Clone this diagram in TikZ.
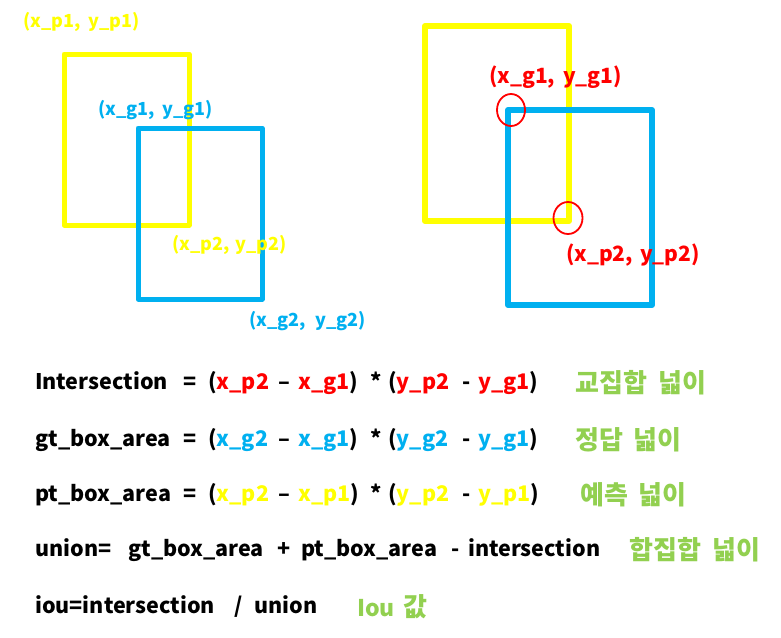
\documentclass[tikz,border=0pt]{standalone}
\usepackage{fontspec}
\setmainfont{Noto Sans CJK KR}
\definecolor{ylw}{HTML}{FFFF00}
\definecolor{blu}{HTML}{00B0F0}
\definecolor{rd}{HTML}{FF0000}
\definecolor{grn}{HTML}{92D050}
\usetikzlibrary{shapes.geometric}
\newcommand\sg[2]{\makebox[#1][l]{#2}}
\tikzset{
  boxline/.style={line width=5pt, line join=round},
  lbl/.style={inner sep=0pt, anchor=west, font=\fontsize{18}{20}\selectfont\bfseries},
  rlbl/.style={inner sep=0pt, anchor=west, font=\fontsize{21}{24}\selectfont\bfseries},
  eq/.style={inner sep=0pt, anchor=west, font=\fontsize{21.5}{26}\selectfont\bfseries},
  kr/.style={inner sep=0pt, anchor=west, text=grn, font=\fontsize{26}{30}\selectfont\bfseries},
  ringmark/.style={draw=rd, line width=1.8pt, ellipse, inner sep=0pt}
}
\begin{document}
\begin{tikzpicture}[x=1pt,y=-1pt]
\useasboundingbox[fill=white] (0,0) rectangle (781,637);
% left diagram
\coordinate (lp1) at (64,54);  \coordinate (lp2) at (189,225);
\coordinate (lg1) at (138,128); \coordinate (lg2) at (262,299);
\draw[boxline, ylw] (lp1) rectangle (lp2);
\draw[boxline, blu] (lg1) rectangle (lg2);
\node[lbl, text=ylw] (tp1) at (23,22) {\sg{65pt}{(x\_p1,}y\_p1)};
\node[lbl, text=blu] (tg1) at (98,110) {\sg{64pt}{(x\_g1,}y\_g1)};
\node[lbl, text=ylw] (tp2) at (172,245) {\sg{63pt}{(x\_p2,}y\_p2)};
\node[lbl, text=blu] (tg2) at (249,321) {\sg{66pt}{(x\_g2,}y\_g2)};
% right diagram
\coordinate (rp1) at (425,26);  \coordinate (rp2) at (569,221);
\coordinate (rg1) at (508,110); \coordinate (rg2) at (652,305);
\draw[boxline, line width=6pt, ylw] (rp1) rectangle (rp2);
\draw[boxline, line width=6pt, blu] (rg1) rectangle (rg2);
\node[ringmark, minimum width=28pt, minimum height=32pt] (c1) at (511,110) {};
\node[ringmark, minimum width=29pt, minimum height=32pt] (c2) at (568,218) {};
\node[rlbl, text=rd] (rt1) at (489,77) {\sg{74pt}{(x\_g1,}y\_g1)};
\node[rlbl, text=rd] (rt2) at (566,255) {\sg{74pt}{(x\_p2,}y\_p2)};
% formulas
\node[eq] (f1) at (35,383) {\sg{148pt}{Intersection}\sg{25pt}{=}\sg{70pt}{(\textcolor{rd}{x\_p2}}\sg{20pt}{–}\sg{72pt}{\textcolor{rd}{x\_g1})}\sg{18pt}{*}\sg{74pt}{(\textcolor{rd}{y\_p2}}\sg{16pt}{-}\textcolor{rd}{y\_g1})};
\node[eq] (f2) at (35,440) {\sg{148pt}{gt\_box\_area}\sg{25pt}{=}\sg{70pt}{(\textcolor{blu}{x\_g2}}\sg{20pt}{–}\sg{72pt}{\textcolor{blu}{x\_g1})}\sg{18pt}{*}\sg{74pt}{(\textcolor{blu}{y\_g2}}\sg{16pt}{-}\textcolor{blu}{y\_g1})};
\node[eq] (f3) at (35,495) {\sg{148pt}{pt\_box\_area}\sg{25pt}{=}\sg{70pt}{(\textcolor{ylw}{x\_p2}}\sg{20pt}{–}\sg{72pt}{\textcolor{ylw}{x\_p1})}\sg{18pt}{*}\sg{74pt}{(\textcolor{ylw}{y\_p2}}\sg{16pt}{-}\textcolor{ylw}{y\_p1})};
\node[eq] (f4) at (35,550) {\sg{93pt}{union=}\sg{149pt}{gt\_box\_area}\sg{24pt}{+}\sg{150pt}{pt\_box\_area}\sg{17pt}{-}intersection};
\node[eq] (f5) at (35,607) {\sg{199pt}{iou=intersection}\sg{20pt}{/}union};
\node[kr] (k1) at (575,383) {\sg{83pt}{교집합}넓이};
\node[kr] (k2) at (575,440) {\sg{58pt}{정답}넓이};
\node[kr] (k3) at (580,495) {\sg{58pt}{예측}넓이};
\node[kr] (k4) at (629,550) {\sg{83pt}{합집합}넓이};
\node[kr] (k5) at (357,607) {\sg{46pt}{\fontsize{23}{27}\selectfont Iou}값};
\end{tikzpicture}
\end{document}
